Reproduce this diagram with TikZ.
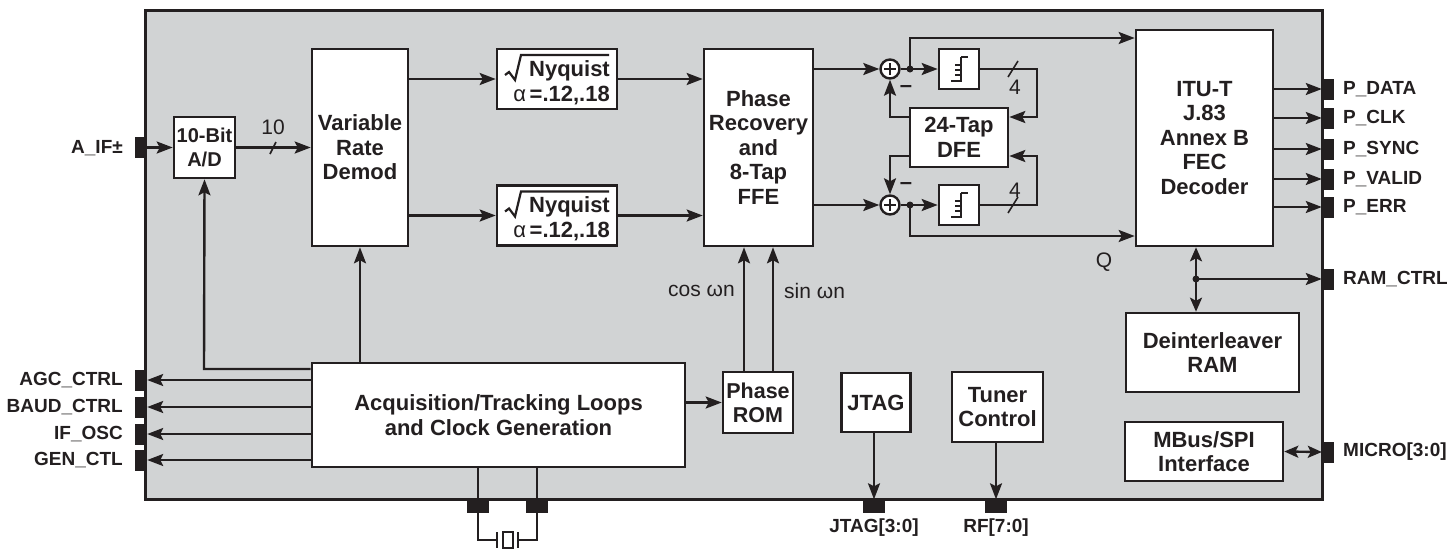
\documentclass[tikz,border=0pt]{standalone}
\usepackage{fontspec}
\setmainfont{Liberation Sans}
\usetikzlibrary{arrows.meta}
\definecolor{ink}{HTML}{231F20}
\definecolor{chipgray}{HTML}{D1D3D4}
\newcommand\bfbig{\bfseries\fontsize{22}{24.5}\selectfont}
\newcommand\bfsmall{\bfseries\fontsize{20}{24}\selectfont}
\newcommand\bfmid{\bfseries\fontsize{21.5}{24}\selectfont}
\newcommand\pinfont{\bfseries\fontsize{19}{20}\selectfont}
\newcommand\rmlab{\mdseries\fontsize{21}{22}\selectfont}
\begin{document}
\begin{tikzpicture}[x=1pt,y=-1pt,
  box/.style={draw=ink,fill=white,line width=2.6pt,align=center,font=\bfbig,text=ink,inner sep=0pt},
  wire/.style={draw=ink,line width=2.4pt},
  arr/.style={wire,-{Stealth[length=16pt,width=12pt,inset=3pt]}},
  darr/.style={wire,{Stealth[length=14pt,width=12pt,inset=3pt]}-{Stealth[length=14pt,width=12pt,inset=3pt]}},
  pinbox/.style={fill=ink,draw=none,inner sep=0pt,minimum width=12pt,minimum height=21pt},
  bpin/.style={fill=ink,draw=none,inner sep=0pt,minimum width=22pt,minimum height=13pt},
  lpin/.style={font=\pinfont,text=ink,anchor=east,inner sep=0pt},
  rpin/.style={font=\pinfont,text=ink,anchor=west,inner sep=0pt},
  summer/.style={circle,draw=ink,fill=white,line width=2.4pt,minimum size=19pt,inner sep=0pt},
  dot/.style={circle,fill=ink,inner sep=0pt,minimum size=7pt},
  nyqtxt/.style={font=\bfbig,text=ink,anchor=base east,inner sep=0pt}
]
\useasboundingbox (0,0) rectangle (1447,550);
% chip
\draw[draw=ink,fill=chipgray,line width=3pt] (145,10) rectangle (1322,499);

% pins left
\node[pinbox] (pAIF) at (141,147) {};
\node[pinbox] (pAGC) at (141,380) {};
\node[pinbox] (pBAUD) at (141,407) {};
\node[pinbox] (pIF) at (141,434) {};
\node[pinbox] (pGEN) at (141,460) {};
% pins right
\node[pinbox] (pDATA) at (1328,89) {};
\node[pinbox] (pCLK) at (1328,118) {};
\node[pinbox] (pSYNC) at (1328,149) {};
\node[pinbox] (pVALID) at (1328,179) {};
\node[pinbox] (pERR) at (1328,207) {};
\node[pinbox] (pRAM) at (1328,279) {};
\node[pinbox] (pMICRO) at (1328,452) {};
% pins bottom
\node[bpin] (pJTAG) at (874,506) {};
\node[bpin] (pRF) at (996,506) {};
\node[bpin] (pX1) at (478,506) {};
\node[bpin] (pX2) at (537,506) {};

% pin labels
\node[lpin] (tAIF) at (123,148) {A\_IF±};
\node[lpin] (tAGC) at (123,380) {AGC\_CTRL};
\node[lpin] (tBAUD) at (123,407) {BAUD\_CTRL};
\node[lpin] (tIF) at (123,434) {IF\_OSC};
\node[lpin] (tGEN) at (123,460) {GEN\_CTL};
\node[rpin] (tDATA) at (1343,89) {P\_DATA};
\node[rpin] (tCLK) at (1343,118) {P\_CLK};
\node[rpin] (tSYNC) at (1343,149) {P\_SYNC};
\node[rpin] (tVALID) at (1343,179) {P\_VALID};
\node[rpin] (tERR) at (1343,207) {P\_ERR};
\node[rpin] (tRAM) at (1343,279) {RAM\_CTRL};
\node[rpin] (tMICRO) at (1343,452) {MICRO[3:0]};
\node[font=\pinfont,text=ink] (tJTAG) at (874,528) {JTAG[3:0]};
\node[font=\pinfont,text=ink] (tRF) at (996,528) {RF[7:0]};

% boxes
\node[box,font=\bfsmall,minimum width=61pt,minimum height=61pt] (ad) at (204.5,147.5) {10-Bit\\A/D};
\node[box,minimum width=96pt,minimum height=197pt] (vrd) at (360,147.5) {Variable\\Rate\\Demod};
\node[box,minimum width=120pt,minimum height=60pt] (nyq1) at (557,79) {};
\node[box,minimum width=120pt,minimum height=60pt] (nyq2) at (557,215.5) {};
\foreach \n in {nyq1,nyq2}{
  \node[nyqtxt] (\n a) at ([shift={(53,-3)}]\n.center) {Nyquist};
  \node[nyqtxt] (\n b) at ([shift={(53,22)}]\n.center) {{\mdseries α\,}=.12,.18};
  \draw[ink,line width=2.2pt,line join=miter] (\n.center) ++(-52,-4) -- ++(4,-3) -- ++(6,8) -- ++(6,-25) -- ++(88,0);
}
\node[box,minimum width=109pt,minimum height=197pt] (prf) at (758.5,147.5) {Phase\\Recovery\\and\\8-Tap\\FFE};
\node[box,minimum width=40pt,minimum height=40pt] (sl1) at (959,69) {};
\node[box,minimum width=40pt,minimum height=40pt] (sl2) at (959,205) {};
\node[box,minimum width=98pt,minimum height=59pt] (dfe) at (959,137.5) {24-Tap\\DFE};
\node[box,minimum width=137pt,minimum height=216pt] (fec) at (1204.5,138) {ITU-T\\J.83\\Annex B\\FEC\\Decoder};
\node[box,minimum width=173pt,minimum height=79pt] (dint) at (1212.5,352.5) {Deinterleaver\\RAM};
\node[box,minimum width=158pt,minimum height=59pt] (mbus) at (1204,451.5) {MBus/SPI\\Interface};
\node[box,minimum width=373pt,minimum height=104pt] (acq) at (498.5,415) {Acquisition/Tracking Loops\\and Clock Generation};
\node[box,font=\bfmid,minimum width=70pt,minimum height=61pt] (rom) at (758,402.5) {Phase\\ROM};
\node[box,minimum width=69pt,minimum height=59pt] (jtag) at (876,402.5) {JTAG};
\node[box,minimum width=91pt,minimum height=70pt] (tuner) at (997.5,407) {Tuner\\Control};

% slicer symbols
\foreach \s in {sl1,sl2}{
  \draw[ink,line width=1.8pt] (\s.center) ++(2,-12) -- ++(7,0) (\s.center) ++(2,-12) -- ++(0,24) -- ++(-10,0)
     (\s.center) ++(2,-4) -- ++(-6,0) (\s.center) ++(2,1) -- ++(-6,0) (\s.center) ++(2,6) -- ++(-6,0);
}

% summers
\node[summer] (s1) at (890,69) {};
\node[summer] (s2) at (890,205) {};
\draw[ink,line width=2.2pt] (s1.center) +(-6,0) -- +(6,0) (s1.center) +(0,-6) -- +(0,6);
\draw[ink,line width=2.2pt] (s2.center) +(-6,0) -- +(6,0) (s2.center) +(0,-6) -- +(0,6);

% front end
\draw[arr] (pAIF.east |- ad.west) -- (ad.west);
\draw[arr] (ad.east) -- (vrd.west);
\draw[ink,line width=1.6pt] (270,154) -- (276,142);
\node[font=\rmlab,text=ink] (t10) at (273,127) {10};
\draw[arr] (vrd.east |- nyq1.west) -- (nyq1.west);
\draw[arr] (vrd.east |- nyq2.west) -- (nyq2.west);
\draw[arr] (nyq1.east) -- (prf.west |- nyq1.east);
\draw[arr] (nyq2.east) -- (prf.west |- nyq2.east);
\draw[arr] (prf.east |- s1.west) -- (s1.west);
\draw[arr] (prf.east |- s2.west) -- (s2.west);

% DFE section
\coordinate (d1) at (910,69);
\coordinate (d2) at (910,205);
\draw[arr] (s1.east) -- (sl1.west);
\draw[arr] (s2.east) -- (sl2.west);
\node[dot] (dd1) at (d1) {};
\node[dot] (dd2) at (d2) {};
\draw[arr] (d1) -- (910,38) -- (fec.west |- 910,38);
\draw[arr] (d2) -- (910,236) -- (fec.west |- 910,236);
\draw[arr] (sl1.east) -- (1037,69) -- (1037,117) -- (dfe.east |- 1037,117);
\draw[arr] (sl2.east) -- (1037,205) -- (1037,156) -- (dfe.east |- 1037,156);
\draw[ink,line width=1.6pt] (1008,77) -- (1018,61);
\draw[ink,line width=1.6pt] (1008,213) -- (1018,197);
\node[font=\rmlab,text=ink] (t4a) at (1015,87) {4};
\node[font=\rmlab,text=ink] (t4b) at (1015,190) {4};
\draw[arr] (dfe.west |- 890,117) -- (890,117) -- (s1.south);
\draw[arr] (dfe.west |- 890,156) -- (890,156) -- (s2.north);
\node[font=\bfbig,text=ink] (m1) at (906,89) {--};
\node[font=\bfbig,text=ink] (m2) at (906,186) {--};
\node[font=\rmlab,text=ink] (tQ) at (1104,262) {Q};

% FEC outputs
\foreach \p in {pDATA,pCLK,pSYNC,pVALID,pERR}
  \draw[arr] (fec.east |- \p.west) -- (\p.west);
\draw[darr] (fec.south -| 1196,0) -- (dint.north -| 1196,0);
\node[dot] (dd3) at (1196,279) {};
\draw[arr] (dd3.center) -- (pRAM.west);
\draw[darr] (mbus.east) -- (pMICRO.west);

% acquisition
\draw[arr] (acq.north -| vrd.south) -- (vrd.south);
\draw[arr] (acq.west |- 204,369) -- (204,369) -- (ad.south);
\foreach \p in {pAGC,pBAUD,pIF,pGEN}
  \draw[arr] (acq.west |- \p.east) -- (\p.east);
\draw[arr] (acq.east |- rom.west) -- (rom.west);
\draw[arr] (rom.north -| 744,0) -- (prf.south -| 744,0);
\draw[arr] (rom.north -| 773,0) -- (prf.south -| 773,0);
\node[font=\rmlab,text=ink,anchor=east,inner sep=0pt] (tcos) at (735,291) {cos ωn};
\node[font=\rmlab,text=ink,anchor=west,inner sep=0pt] (tsin) at (784,291) {sin ωn};
\draw[arr] (jtag.south -| pJTAG.north) -- (pJTAG.north);
\draw[arr] (tuner.south -| pRF.north) -- (pRF.north);

% crystal
\draw[wire,line width=2pt] (acq.south -| pX1.north) -- (pX1.north);
\draw[wire,line width=2pt] (acq.south -| pX2.north) -- (pX2.north);
\coordinate (xl) at (497,540);
\coordinate (xr) at (518,540);
\draw[wire,line width=2pt] (pX1.south) -- (478,540) -- (xl);
\draw[wire,line width=2pt] (pX2.south) -- (537,540) -- (xr);
\draw[wire,line width=2pt] (497,532) -- (497,548) (518,532) -- (518,548);
\draw[wire,line width=2pt] (503,532) rectangle (513,548);
\end{tikzpicture}
\end{document}
